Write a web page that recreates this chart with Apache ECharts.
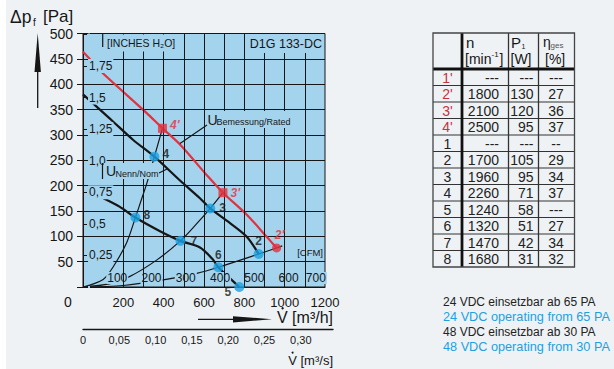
<!DOCTYPE html>
<html><head><meta charset="utf-8">
<script src="https://cdn.jsdelivr.net/npm/echarts@6/dist/echarts.min.js"></script>
<style>html,body{margin:0;padding:0;background:#fff}#c{width:614px;height:369px}</style>
</head><body><div id="c"></div>
<script>
// ---------------- data ----------------
const flowMax = 1200;             // m3/h
const pressMax = 500;             // Pa
const xGridLines = [200,300,400,500,600,700,800,900,1000,1100];
const inchLabels = ['', '0,25', '0,5', '0,75', '1,0', '1,25', '1,5', '1,75', ''];
const cfmLabels = ['', '100', '200', '300', '400', '500', '600', '700'];
const m3sLabels = ['0', '0,05', '0,10', '0,15', '0,20', '0,25', '0,30'];

// fan curves [m3/h, Pa]
const ratedCurve = [[0,464],[28,452],[84,427],[316,343],[394,313],[481,281],[613,221],[694,186],[811,143],[911,99],[960,77]];
const nomCurve   = [[0,380],[114,339],[150,326],[249,290],[354,257],[481,210],[580,175],[631,155],[729,126],[812,99],[871,65]];
const lowCurve   = [[101,175],[183,158],[260,137],[382,110],[483,91],[580,78],[640,56],[671,39],[729,17],[775,0]];
// system curves
const sysA = [[0,0],[100,15],[150,40],[217,88],[260,137],[291,174],[316,204],[354,257],[394,313]];
const sysB = [[0,0],[130,6],[233,21],[365,53],[483,91],[555,121],[631,155],[694,186]];
const sysC = [[0,0],[200,3],[398,14],[564,27],[671,39],[871,65],[960,77],[988,81]];

// operating points
const pointNames = ['2','3','4','5','6','7','8'];
const pointFlow  = [871,631,354,775,671,483,260];
const pointPress = [65,155,257,0,39,91,137];
const ratedNames = ["2'","3'","4'"];
const ratedFlow  = [960,694,394];
const ratedPress = [77,186,313];

// table
const tableRows = ["1'","2'","3'","4'","1","2","3","4","5","6","7","8"];
const tableN    = ['---','1800','2100','2500','---','1700','1960','2260','1240','1320','1470','1680'];
const tableP1   = ['---','130','120','95','---','105','95','71','58','51','42','31'];
const tableEta  = ['---','27','36','37','--','29','34','37','---','27','34','32'];
const notes = ['24 VDC einsetzbar ab 65 PA','24 VDC operating from 65 PA','48 VDC einsetzbar ab 30 PA','48 VDC operating from 30 PA'];

// ---------------- style ----------------
const FONT = '"Liberation Sans", Arial, Helvetica, sans-serif';
const BG = '#eef2f5';
const PLOT = '#a4d3ee';
const INK = '#161616';
const RED = '#e2323f';
const RED_T = '#c8323c';
const CYAN = '#1ba1e2';

const labelPos = {
  '2':{position:'top',distance:2},
  '3':{position:'right',distance:4},
  '4':{position:'right',distance:3,offset:[0,-3]},
  '5':{position:'left',distance:3,offset:[0,5]},
  '6':{position:'top',distance:1},
  '7':{position:'right',distance:5},
  '8':{position:'right',distance:3,offset:[0,-3]},
  "2'":{position:'top',distance:2,offset:[3,0]},
  "3'":{position:'right',distance:3},
  "4'":{position:'right',distance:3,offset:[0,-3]}
};
const redSymbol = {"2'":'circle',"3'":'rect',"4'":'rect'};

const chart = echarts.init(document.getElementById('c'), null, {renderer:'svg', width:614, height:369});

const G = [];
function txt(x, y, text, o) {
  G.push({type:'text', x:x, y:y, z:100, silent:true,
    style:Object.assign({x:0, y:0, text:text, fill:INK, fontFamily:FONT, fontSize:12,
      align:'left', verticalAlign:'middle'}, o || {})});
}
function ln(x1,y1,x2,y2,w,c,z) {
  G.push({type:'line', z:z||100, silent:true, shape:{x1:x1,y1:y1,x2:x2,y2:y2}, style:{stroke:c||INK, lineWidth:w||1}});
}
function box(x,y,w,h,fill,z){
  G.push({type:'rect', z:z||90, silent:true, shape:{x:x,y:y,width:w,height:h}, style:{fill:fill}});
}
function dot(x,y,r){
  G.push({type:'circle', z:100, silent:true, shape:{cx:x, cy:y, r:r}, style:{fill:INK}});
}

// white margin strip
box(0,0,6,369,'#ffffff',0);

// title & axis names
txt(10, 17, 'Δp', {fontSize:17.5});
txt(33, 22.5, 'f', {fontSize:10});
txt(43, 16, '[Pa]', {fontSize:17});
txt(68, 302, '0', {fontSize:14, align:'center'});
txt(333, 317, 'V [m³/h]', {fontSize:16, align:'right'});
dot(282.6, 308.3, 1.2);
txt(333, 360, 'V [m³/s]', {fontSize:13, align:'right'});
dot(292.6, 352.6, 1.0);

// arrows
G.push({type:'polygon', z:100, silent:true, shape:{points:[[37.7,33],[40.9,72],[34.5,72]]}, style:{fill:INK}});
ln(37.7,71,37.7,108,1.3);
ln(198,319.3,236,319.3,1.3);
G.push({type:'polygon', z:100, silent:true, shape:{points:[[233,316.2],[272,319.3],[233,322.4]]}, style:{fill:INK}});

// in-plot labels
txt(106, 43, '[INCHES H₂O]', {fontSize:10.5, backgroundColor:PLOT, padding:[3,2,3,1]});
ln(102.7,34,102.7,47,1.2);
txt(323, 43.5, 'D1G 133-DC', {fontSize:12.5, align:'right', backgroundColor:PLOT, padding:[3,1,3,2]});
txt(323, 252.7, '[CFM]', {fontSize:9.5, align:'right'});
box(206,111,87,17,PLOT);
txt(207.5, 119.5, 'U', {fontSize:14});
txt(216.5, 122, 'Bemessung/Rated', {fontSize:9});
ln(180,143.5,207,125,1.1);
box(104,163,56,16,PLOT);
ln(102.5,163,102.5,179,1.2);
txt(106, 171, 'U', {fontSize:14});
txt(115.5, 173.5, 'Nenn/Nom', {fontSize:9});
ln(159,173,168,168.5,1.1);

// table
const tX = [433, 462, 508.5, 538.5, 574.5];
const tTop = 33, tHead = 69, rowH = 16.5;
const tBot = tHead + rowH * tableRows.length;
for (let k = 1; k < tableRows.length; k++) ln(tX[0], tHead + k*rowH, tX[4], tHead + k*rowH, 1.1, '#333');
ln(tX[2], tTop, tX[2], tBot, 1.3, '#333');
ln(tX[3], tTop, tX[3], tBot, 1.3, '#333');
ln(tX[0], tHead, tX[4], tHead, 2.8, '#111');
ln(tX[1], tTop, tX[1], tBot, 2.8, '#111');
G.push({type:'rect', z:100, silent:true, shape:{x:tX[0], y:tTop, width:tX[4]-tX[0], height:tBot-tTop}, style:{fill:'none', stroke:'#444', lineWidth:1.3}});
txt(466, 42.5, 'n', {fontSize:15});
txt(465, 59, '[min', {fontSize:14});
txt(491.5, 54.5, '-1', {fontSize:8});
txt(499.5, 59, ']', {fontSize:14});
txt(511, 42, 'P', {fontSize:15});
txt(521.5, 46.5, '1', {fontSize:7});
txt(510.5, 59, '[W]', {fontSize:14});
txt(543, 41.5, 'η', {fontSize:14});
txt(550.5, 45, 'ges', {fontSize:8, fill:'#555'});
txt(545, 59, '[%]', {fontSize:14});
tableRows.forEach(function(r, i){
  const cy = tHead + (i + 0.5) * rowH + 0.5;
  txt(447.5, cy, r, {fontSize:14, align:'center', fill: r.indexOf("'") >= 0 ? RED_T : '#222'});
  txt(499, cy, tableN[i], {fontSize:14, align:'right', fill:'#222'});
  txt(533.5, cy, tableP1[i], {fontSize:14, align:'right', fill:'#222'});
  txt(556, cy, tableEta[i], {fontSize:14, align:'center', fill:'#222'});
});

// notes
notes.forEach(function(s, i){
  const blue = i % 2 === 1;
  txt(443, 301.5 + i*15, s, {fontSize: blue ? 12.7 : 12, fill: blue ? CYAN : '#222'});
});

const lineBase = {type:'line', xAxisIndex:0, yAxisIndex:0, showSymbol:false, symbol:'none', smooth:0.3, silent:true};

chart.setOption({
  animation:false,
  backgroundColor:BG,
  textStyle:{fontFamily:FONT},
  grid:[
    {left:83, top:33.5, width:242, height:253.5, show:true, backgroundColor:PLOT, borderColor:INK, borderWidth:1},
    {left:83, top:328, width:250, height:1, show:false}
  ],
  xAxis:[
    {type:'value', gridIndex:0, min:0, max:flowMax, interval:200, position:'bottom',
      axisLine:{show:true, lineStyle:{color:INK, width:1}}, axisTick:{show:false}, splitLine:{show:false},
      axisLabel:{fontSize:13, color:INK, margin:9, formatter:function(v){return v>0 ? String(v) : '';}}},
    {type:'value', gridIndex:0, min:0, max:flowMax/1.69901, interval:100, position:'bottom', z:4,
      axisLine:{show:false}, axisTick:{show:false}, splitLine:{show:false},
      axisLabel:{inside:true, margin:3, fontSize:12, color:INK,
        rich:{a:{fontSize:12, color:INK, backgroundColor:PLOT, padding:[0,1]}, g:{width:14}},
        formatter:function(v,i){
          const s = cfmLabels[i];
          if (!s) return '';
          return i === cfmLabels.length - 1 ? '{a|' + s + '}{g|}' : '{a|' + s + '}';
        }}},
    {type:'value', gridIndex:1, min:0, max:(flowMax/3600)*250/242, interval:0.05, position:'bottom',
      axisLine:{show:true, lineStyle:{color:INK, width:1.3}}, axisTick:{show:false}, splitLine:{show:false},
      axisLabel:{fontSize:11, color:INK, margin:5, formatter:function(v,i){return m3sLabels[i] || '';}}}
  ],
  yAxis:[
    {type:'value', gridIndex:0, min:0, max:pressMax, interval:50, position:'left',
      axisLine:{show:true, lineStyle:{color:INK, width:1}}, axisTick:{show:true, length:6, lineStyle:{color:INK}},
      splitLine:{show:true, lineStyle:{color:INK, width:1}},
      axisLabel:{fontSize:14, color:INK, margin:10, formatter:function(v){return v>0 ? String(v) : '';}}},
    {type:'value', gridIndex:0, min:0, max:pressMax/249.089, interval:0.25, position:'left', z:4,
      axisLine:{show:false}, axisTick:{show:true, inside:true, length:4, lineStyle:{color:INK}}, splitLine:{show:false},
      axisLabel:{inside:true, margin:5, fontSize:12, color:INK, backgroundColor:PLOT, padding:[1,1],
        formatter:function(v,i){return inchLabels[i] || '';}}},
    {type:'value', gridIndex:1, min:0, max:1, show:false}
  ],
  graphic:G,
  series:[
    {type:'line', xAxisIndex:0, yAxisIndex:0, data:[], z:1, silent:true,
      markLine:{silent:true, symbol:['none','none'], label:{show:false}, animation:false,
        lineStyle:{color:INK, width:1, type:'solid'},
        data:xGridLines.map(function(v){return {xAxis:v};})}},
    Object.assign({}, lineBase, {data:sysA, z:2, lineStyle:{color:INK, width:1.2}}),
    Object.assign({}, lineBase, {data:sysB, z:2, lineStyle:{color:INK, width:1.2}}),
    Object.assign({}, lineBase, {data:sysC, z:2, lineStyle:{color:INK, width:1.2}}),
    Object.assign({}, lineBase, {data:lowCurve, z:3, lineStyle:{color:INK, width:2.2}}),
    Object.assign({}, lineBase, {data:nomCurve, z:3, lineStyle:{color:INK, width:2.2}}),
    Object.assign({}, lineBase, {data:ratedCurve, z:3, lineStyle:{color:RED, width:2.2}}),
    {type:'scatter', xAxisIndex:0, yAxisIndex:0, z:6, symbol:'circle', symbolSize:10, silent:true,
      itemStyle:{color:CYAN},
      label:{show:true, formatter:'{b}', color:INK, fontWeight:'bold', fontSize:12, fontFamily:FONT},
      data:pointNames.map(function(n,i){return {name:n, value:[pointFlow[i], pointPress[i]], label:labelPos[n]};})},
    {type:'scatter', xAxisIndex:0, yAxisIndex:0, z:6, symbolSize:9, silent:true,
      itemStyle:{color:RED},
      label:{show:true, formatter:'{b}', color:RED, fontWeight:'bold', fontStyle:'italic', fontSize:12, fontFamily:FONT},
      data:ratedNames.map(function(n,i){return {name:n, value:[ratedFlow[i], ratedPress[i]], symbol:redSymbol[n], label:labelPos[n]};})}
  ]
});
</script>
</body></html>
